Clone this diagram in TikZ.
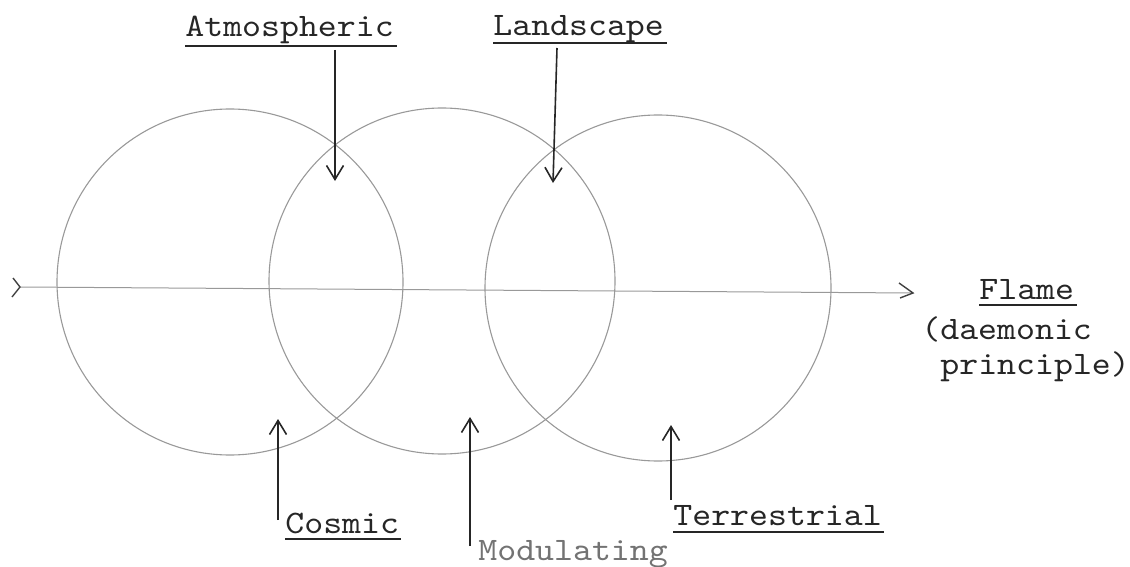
\documentclass[tikz,border=0pt]{standalone}
\usepackage{fontspec}
\setmonofont{lmmono10-regular.otf}[FakeStretch=1.1]
\usetikzlibrary{arrows.meta,calc}
\begin{document}
\begin{tikzpicture}[x=0.5pt,y=-0.5pt,
  lbl/.style={font=\ttfamily\fontsize{16.4}{19}\selectfont, inner sep=0pt, anchor=base west, text=black!85},
  ring/.style={circle, draw=black!40, line width=0.55pt, minimum size=173pt, inner sep=0pt},
  axisline/.style={draw=black!40, line width=0.5pt},
  chevron/.style={draw=black!75, line width=0.7pt},
  pointer/.style={draw=black!85, line width=0.8pt, -{Straight Barb[length=7pt,width=8.5pt]}},
  uline/.style={draw=black!85, line width=1.1pt}
]
\useasboundingbox (0,0) rectangle (1130,567);

% circles
\node[ring] (c1) at (230,282) {};
\node[ring] (c2) at (442,281) {};
\node[ring] (c3) at (658,288) {};

% horizontal axis
\coordinate (axL) at (20,287);
\coordinate (axR) at (913,293);
\draw[axisline] (axL) -- (axR);
\draw[chevron] ($(axL)+(-7,-9)$) -- (axL) -- ($(axL)+(-8,10)$);
\draw[chevron] ($(axR)+(-14,-10)$) -- (axR) -- ($(axR)+(-13,5)$);

% labels
\node[lbl] (atm) at (185,37) {Atmospheric};
\node[lbl] (land) at (493,36) {Landscape};
\node[lbl] (flame) at (979,299) {Flame};
\node[lbl] (daem) at (921,339) {(daemonic};
\node[lbl] (princ) at (940,374) {principle)};
\node[lbl] (cos) at (285,533) {Cosmic};
\node[lbl, text=black!55] (mod) at (478,560) {Modulating};
\node[lbl] (ter) at (673,525) {Terrestrial};

% underlines
\draw[uline] ($(atm.base west)+(0,9)$) -- ($(atm.base east)+(3,9)$);
\draw[uline] ($(land.base west)+(0,7)$) -- ($(land.base east)+(3,7)$);
\draw[uline] ($(flame.base west)+(0,6)$) -- ($(flame.base east)+(2,6)$);
\draw[uline] ($(cos.base west)+(0,6)$) -- ($(cos.base east)+(2,6)$);
\draw[uline] ($(ter.base west)+(0,7)$) -- ($(ter.base east)+(2,7)$);

% pointers
\coordinate (atmTail) at (335,50);  \coordinate (atmTip) at (335,181);
\coordinate (landTail) at (557,48); \coordinate (landTip) at (553,183);
\coordinate (cosTail) at (278,520); \coordinate (cosTip) at (278,419);
\coordinate (modTail) at (470,546); \coordinate (modTip) at (470,417);
\coordinate (terTail) at (671,500); \coordinate (terTip) at (671,425);
\draw[pointer] (atmTail) -- (atmTip);
\draw[pointer] (landTail) -- (landTip);
\draw[pointer] (cosTail) -- (cosTip);
\draw[pointer] (modTail) -- (modTip);
\draw[pointer] (terTail) -- (terTip);
\end{tikzpicture}
\end{document}
